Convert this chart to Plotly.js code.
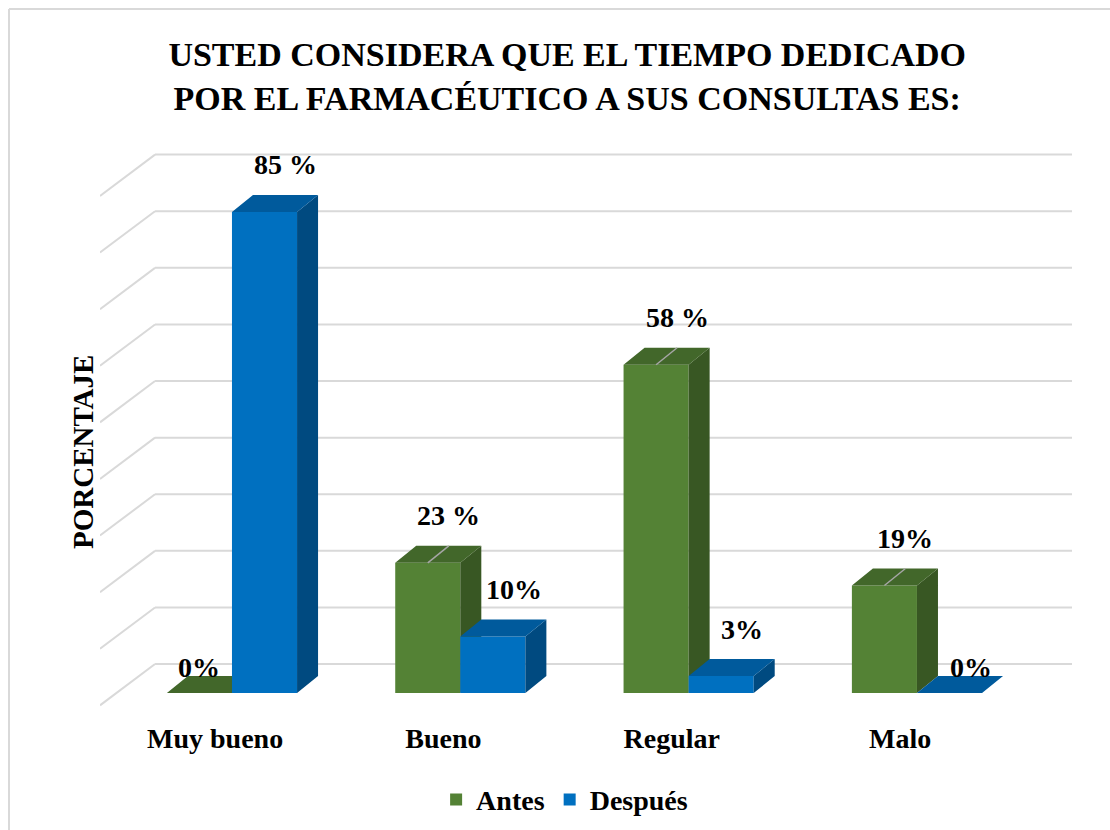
<!DOCTYPE html>
<html><head><meta charset="utf-8">
<script src="https://cdn.plot.ly/plotly-3.0.1.min.js"></script>
<style>html,body{margin:0;padding:0;background:#fff}#chart{width:1110px;height:830px}</style>
</head><body><div id="chart"></div>
<script>
// ---- data ----
const categories = ['Muy bueno', 'Bueno', 'Regular', 'Malo'];
const seriesNames = ['Antes', 'Después'];
const antes = [0, 23, 58, 19];
const despues = [85, 10, 3, 0];
const antesLabels = ['0%', '23 %', '58 %', '19%'];
const despuesLabels = ['85 %', '10%', '3%', '0%'];
const gridTicks = [0, 10, 20, 30, 40, 50, 60, 70, 80, 90];
const titleLines = ['USTED CONSIDERA QUE EL TIEMPO DEDICADO', 'POR EL FARMACÉUTICO A SUS CONSULTAS ES:'];
const yTitle = 'PORCENTAJE';

// ---- geometry / style ----
const W = 0.285, DX = 0.092, DY = 3.0;
const WALL_Y = 5.12, WALL_X1 = -0.337, WALL_DY = 7.3;
const XR = [-0.578, 3.679], YR = [-3.0, 96.82];
const LABEL_SHIFT = -0.074;
const FONT = '"Liberation Serif", "Times New Roman", serif';
const COL = [
  {front: '#548235', top: '#42672A', side: '#385723'},
  {front: '#0070C0', top: '#005A9C', side: '#004A80'}
];
const GRID = '#D9D9D9';

const series = [antes, despues];
const labels = [antesLabels, despuesLabels];
const idx = categories.map((c, i) => i);

function polys(vals, s, kind) {
  const xs = [], ys = [];
  vals.forEach((v, i) => {
    const x0 = s === 0 ? i - W : i;
    const x1 = x0 + W;
    let px, py;
    if (kind === 'top') {
      px = [x0, x1, x1 + DX, x0 + DX, x0];
      py = [v, v, v + DY, v + DY, v];
    } else {
      px = [x1, x1 + DX, x1 + DX, x1, x1];
      py = [0, DY, v + DY, v, 0];
    }
    xs.push(...px, null); ys.push(...py, null);
  });
  return {x: xs, y: ys};
}

const traces = [];
series.forEach((vals, s) => {
  traces.push({
    type: 'bar', name: seriesNames[s], x: idx, y: vals,
    width: W, offset: s === 0 ? -W : 0,
    marker: {color: COL[s].front, line: {width: 0}},
    hoverinfo: 'skip', zorder: 2 * s + 1
  });
  ['side', 'top'].forEach(kind => {
    const p = polys(vals, s, kind);
    traces.push({
      type: 'scatter', mode: 'lines', x: p.x, y: p.y, fill: 'toself',
      fillcolor: COL[s][kind], line: {width: 0, color: COL[s][kind]},
      connectgaps: false, showlegend: false, hoverinfo: 'skip', zorder: 2 * s + 2
    });
  });
});

// leader lines on the Antes tops
const lx = [], ly = [];
antes.forEach((v, i) => {
  if (v > 0) { lx.push(i - W / 2, i - W / 2 + DX, null); ly.push(v, v + DY, null); }
});
traces.push({type: 'scatter', mode: 'lines', x: lx, y: ly, line: {color: '#A6A6A6', width: 1.5},
  showlegend: false, hoverinfo: 'skip', zorder: 6});

// data labels
const annotations = [];
series.forEach((vals, s) => {
  vals.forEach((v, i) => {
    const cx = (s === 0 ? i - W : i) + W / 2;
    const other = series[1 - s][i];
    const shift = (s === 0 && other > v) ? 0 : DX;
    annotations.push({
      x: cx + shift, y: v + (v > 0 ? 8.3 : 4.5), xref: 'x', yref: 'y',
      text: labels[s][i], showarrow: false, xanchor: 'center', yanchor: 'middle',
      font: {family: FONT, size: 28, weight: 700, color: '#000'}
    });
  });
});
// value axis title
annotations.push({
  x: -0.0175, y: 0.4566, xref: 'paper', yref: 'paper', text: yTitle, textangle: -90,
  showarrow: false, xanchor: 'center', yanchor: 'middle',
  font: {family: FONT, size: 29, weight: 700, color: '#000'}
});

// walls / gridlines
const shapes = [];
gridTicks.forEach(t => {
  const g = WALL_Y + t;
  shapes.push({type: 'line', xref: 'x', yref: 'y', x0: WALL_X1, x1: XR[1], y0: g, y1: g,
    line: {color: GRID, width: 2}, layer: 'below'});
  shapes.push({type: 'line', xref: 'x', yref: 'y', x0: XR[0], x1: WALL_X1, y0: g - WALL_DY, y1: g,
    line: {color: GRID, width: 2}, layer: 'below'});
});
// chart border (top and left)
shapes.push({type: 'line', xref: 'paper', yref: 'paper', x0: -0.0936, x1: 1.05, y0: 1.2407, y1: 1.2407,
  line: {color: GRID, width: 2}});
shapes.push({type: 'line', xref: 'paper', yref: 'paper', x0: -0.0936, x1: -0.0936, y0: 1.2407, y1: -0.25,
  line: {color: GRID, width: 2}});

const layout = {
  width: 1110, height: 830,
  margin: {l: 100, r: 38, t: 145, b: 120, autoexpand: false},
  font: {family: FONT, color: '#000'},
  paper_bgcolor: '#fff', plot_bgcolor: 'rgba(0,0,0,0)',
  barmode: 'overlay',
  title: {text: titleLines.join('<br>'), xref: 'container', yref: 'container', x: 0.511, y: 0.9205,
    xanchor: 'center', yanchor: 'middle',
    font: {family: FONT, size: 34, weight: 700, color: '#000'}},
  xaxis: {range: XR, tickvals: idx.map(i => i + LABEL_SHIFT), ticktext: categories,
    showgrid: false, zeroline: false, showline: false, ticks: '', ticklabelstandoff: 9,
    tickfont: {family: FONT, size: 28, weight: 700, color: '#000'}, fixedrange: true, automargin: false},
  yaxis: {range: YR, showgrid: false, zeroline: false, showline: false, showticklabels: false, ticks: '',
    fixedrange: true, automargin: false},
  legend: {orientation: 'h', x: 0.478, xanchor: 'center', y: -0.159, yanchor: 'middle',
    font: {family: FONT, size: 28, weight: 700, color: '#000'}, traceorder: 'normal', bgcolor: 'rgba(0,0,0,0)'},
  shapes: shapes,
  annotations: annotations,
  showlegend: true
};

Plotly.newPlot('chart', traces, layout, {displayModeBar: false, staticPlot: true});
</script>
</body></html>
